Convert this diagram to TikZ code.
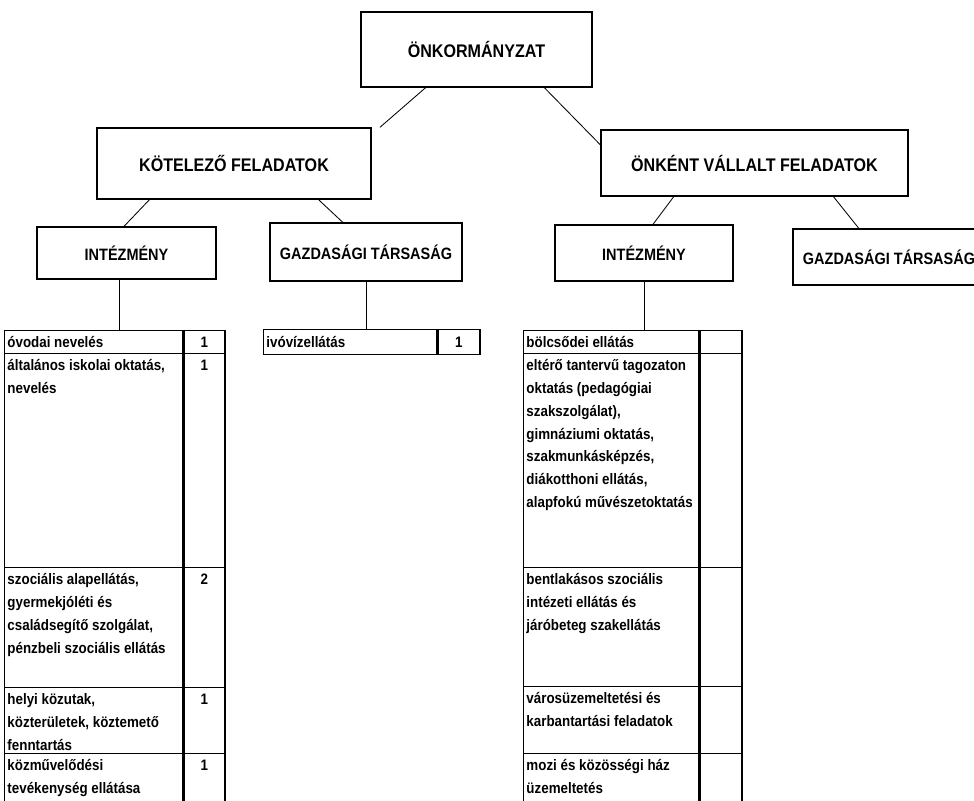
\documentclass[tikz,border=0pt]{standalone}
\usepackage{fontspec}
\setmainfont{Liberation Sans}[FakeStretch=0.88]
\usepackage{tikz}
\usetikzlibrary{positioning, calc}

\begin{document}
\begin{tikzpicture}[
    unit/.style={draw, line width=0.9pt, align=center, inner sep=0pt,
                 font=\fontsize{13}{15}\selectfont\bfseries},
    subunit/.style={unit, font=\fontsize{11.7}{14}\selectfont\bfseries},
    link/.style={line width=0.6pt},
    cellbox/.style={draw, line width=0.9pt, anchor=north west, inner sep=0pt},
    celltext/.style={anchor=north west, align=left, inner sep=0pt,
                     font=\fontsize{10.8}{16.2}\selectfont\bfseries},
    cellnum/.style={celltext, anchor=base},
    divider/.style={line width=2pt},
]
\useasboundingbox (0,0) rectangle (24.35,-20.025);
\clip (0,0) rectangle (24.35,-20.025);

% Top level
\node[unit, minimum width=5.775cm, minimum height=1.875cm] (onk) at (11.9125,-1.2375) {ÖNKORMÁNYZAT};

% Task groups
\node[unit, minimum width=6.85cm, minimum height=1.775cm] (kot) at (5.85,-4.0875) {KÖTELEZŐ FELADATOK};
\node[unit, minimum width=7.675cm, minimum height=1.65cm] (onkent) at (18.8625,-4.075) {ÖNKÉNT VÁLLALT FELADATOK};

% Organisation types
\node[subunit, minimum width=4.475cm, minimum height=1.3cm] (int1) at (3.1625,-6.325) {INTÉZMÉNY};
\node[subunit, minimum width=4.8cm, minimum height=1.45cm] (gt1) at (9.15,-6.3) {GAZDASÁGI TÁRSASÁG};
\node[subunit, minimum width=4.45cm, minimum height=1.4cm] (int2) at (16.1,-6.325) {INTÉZMÉNY};
\node[subunit, minimum width=4.8cm, minimum height=1.4cm] (gt2) at (22.225,-6.425) {GAZDASÁGI TÁRSASÁG};

% Tree links
\draw[link] ($(onk.south west)!0.281!(onk.south east)$) -- ($(kot.north west)!1.03!(kot.north east)$);
\draw[link] ($(onk.south west)!0.792!(onk.south east)$) -- ($(onkent.north west)!0.23!(onkent.south west)$);
\draw[link] ($(kot.south west)!0.193!(kot.south east)$) -- ($(int1.north west)!0.486!(int1.north east)$);
\draw[link] ($(kot.south west)!0.807!(kot.south east)$) -- ($(gt1.north west)!0.38!(gt1.north east)$);
\draw[link] ($(onkent.south west)!0.238!(onkent.south east)$) -- ($(int2.north west)!0.55!(int2.north east)$);
\draw[link] ($(onkent.south west)!0.756!(onkent.south east)$) -- ($(gt2.north west)!0.344!(gt2.north east)$);

% Mandatory tasks, institutions
\foreach \i/\ry/\rh/\txt/\num in {
  1/8.25/0.575cm/{óvodai nevelés}/1,
  2/8.825/5.35cm/{általános iskolai oktatás,\\nevelés}/1,
  3/14.175/3.0cm/{szociális alapellátás,\\gyermekjóléti és\\családsegítő szolgálat,\\pénzbeli szociális ellátás}/2,
  4/17.175/1.65cm/{helyi közutak,\\közterületek, köztemető\\fenntartás}/1,
  5/18.825/1.8cm/{közművelődési\\tevékenység ellátása}/1} {
  \node[cellbox, minimum width=4.45cm, minimum height=\rh] (kt\i) at (0.1,-\ry) {};
  \node[cellbox, minimum width=1.025cm, minimum height=\rh] (kn\i) at (kt\i.north east) {};
  \node[celltext] (ktx\i) at ($(kt\i.north west)+(0.08,-0.087)$) {\rule{0pt}{10pt}\txt};
  \node[cellnum] (knx\i) at ($(kn\i.north)+(0,-0.44)$) {\num};
}
\draw[divider] (kn1.north west) -- (kn5.south west);

% Mandatory tasks, company
\node[cellbox, minimum width=4.325cm, minimum height=0.625cm] (gx) at (6.575,-8.225) {};
\node[cellbox, minimum width=1.05cm, minimum height=0.625cm] (gn) at (gx.north east) {};
\node[celltext] (gxt) at ($(gx.north west)+(0.08,-0.097)$) {\rule{0pt}{10pt}ivóvízellátás};
\node[cellnum] (gnt) at ($(gn.north)+(0,-0.45)$) {1};
\draw[divider] (gn.north west) -- (gn.south west);

% Voluntary tasks, institutions
\foreach \i/\ry/\rh/\txt in {
  1/8.25/0.575cm/{bölcsődei ellátás},
  2/8.825/5.35cm/{eltérő tantervű tagozaton\\oktatás (pedagógiai\\szakszolgálat),\\gimnáziumi oktatás,\\szakmunkásképzés,\\diákotthoni ellátás,\\alapfokú művészetoktatás},
  3/14.175/2.975cm/{bentlakásos szociális\\intézeti ellátás és\\járóbeteg szakellátás},
  4/17.15/1.675cm/{városüzemeltetési és\\karbantartási feladatok},
  5/18.825/1.8cm/{mozi és közösségi ház\\üzemeltetés}} {
  \node[cellbox, minimum width=4.375cm, minimum height=\rh] (rt\i) at (13.075,-\ry) {};
  \node[cellbox, minimum width=1.05cm, minimum height=\rh] (rn\i) at (rt\i.north east) {};
  \node[celltext] (rtx\i) at ($(rt\i.north west)+(0.08,-0.087)$) {\rule{0pt}{10pt}\txt};
}
\draw[divider] (rn1.north west) -- (rn5.south west);

% Drops to the tables
\coordinate (drop1) at ($(int1.south west)!0.458!(int1.south east)$);
\draw[link] (drop1) -- (drop1 |- kt1.north);
\draw[link] (gt1.south) -- (gt1.south |- gx.north);
\draw[link] (int2.south) -- (int2.south |- rt1.north);

\end{tikzpicture}
\end{document}
